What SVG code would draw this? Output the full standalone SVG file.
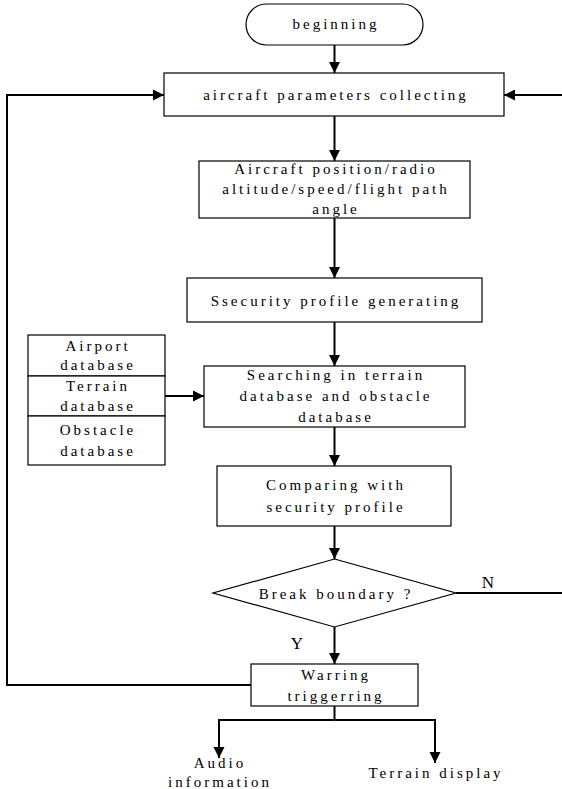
<svg xmlns="http://www.w3.org/2000/svg" width="562" height="789" viewBox="0 0 562 789" font-family="'Liberation Serif', 'Times New Roman', 'DejaVu Serif', serif">
<style>
.box{fill:#fff;stroke:#000;stroke-width:1.2}
.t{font-family:'Liberation Serif','Times New Roman','DejaVu Serif',serif;font-size:15px;letter-spacing:3px;text-anchor:middle;fill:#000}
.lbl{font-family:'Liberation Serif','Times New Roman','DejaVu Serif',serif;font-size:17px;text-anchor:middle;fill:#000}
.c{fill:none;stroke:#000;stroke-width:2}
.ca{fill:none;stroke:#000;stroke-width:2;marker-end:url(#ah)}
</style>
<defs>
<marker id="ah" markerUnits="userSpaceOnUse" markerWidth="12" markerHeight="12" refX="11" refY="6" orient="auto">
<path d="M0,0.5 L11,6 L0,11.5 Z" fill="#000"/>
</marker>
</defs>
<rect width="562" height="789" fill="#fff"/>
<g id="connectors">
<line class="ca" x1="334.5" y1="45" x2="334.5" y2="73"/>
<line class="ca" x1="334.5" y1="116" x2="334.5" y2="161"/>
<line class="ca" x1="334.5" y1="218" x2="334.5" y2="278"/>
<line class="ca" x1="334.5" y1="322" x2="334.5" y2="366"/>
<line class="ca" x1="165" y1="396" x2="204" y2="396"/>
<line class="ca" x1="334.5" y1="427" x2="334.5" y2="466"/>
<line class="ca" x1="334.5" y1="526" x2="334.5" y2="559"/>
<line class="ca" x1="334.5" y1="627" x2="334.5" y2="664"/>
<polyline class="ca" points="456,593 567,593 567,95 504,95"/>
<polyline class="ca" points="251,685 7,685 7,95 164,95"/>
<line class="c" x1="334.5" y1="706" x2="334.5" y2="720"/>
<polyline class="ca" points="334.5,720 219,720 219,758"/>
<polyline class="ca" points="334.5,720 435,720 435,763"/>
<text class="lbl" x="488" y="588">N</text>
<text class="lbl" x="297" y="649">Y</text>
</g>
<g id="beginning">
<rect class="box" x="246" y="4" width="177" height="41" rx="20.5"/>
<text class="t" x="336" y="29">beginning</text>
</g>
<g id="collect">
<rect class="box" x="164" y="73" width="340" height="43"/>
<text class="t" x="336" y="100">aircraft parameters collecting</text>
</g>
<g id="position">
<rect class="box" x="199" y="161" width="271" height="57"/>
<text class="t" x="336" y="174">Aircraft position/radio</text>
<text class="t" x="336" y="194">altitude/speed/flight path</text>
<text class="t" x="336" y="214">angle</text>
</g>
<g id="security">
<rect class="box" x="187" y="278" width="295" height="44"/>
<text class="t" x="336" y="306">Ssecurity profile generating</text>
</g>
<g id="databases">
<rect class="box" x="28" y="335" width="137" height="41"/>
<rect class="box" x="28" y="376" width="137" height="40"/>
<rect class="box" x="28" y="416" width="137" height="49"/>
<text class="t" x="98" y="351">Airport</text>
<text class="t" x="98" y="370">database</text>
<text class="t" x="98" y="391">Terrain</text>
<text class="t" x="98" y="411">database</text>
<text class="t" x="98" y="435">Obstacle</text>
<text class="t" x="98" y="456">database</text>
</g>
<g id="searching">
<rect class="box" x="204" y="366" width="261" height="61"/>
<text class="t" x="336" y="380">Searching in terrain</text>
<text class="t" x="336" y="401">database and obstacle</text>
<text class="t" x="336" y="422">database</text>
</g>
<g id="comparing">
<rect class="box" x="217" y="466" width="234" height="60"/>
<text class="t" x="336" y="490">Comparing with</text>
<text class="t" x="336" y="512">security profile</text>
</g>
<g id="decision">
<polygon class="box" points="334.5,559 456,593 334.5,627 213,593"/>
<text class="t" x="336" y="599">Break boundary  ?</text>
</g>
<g id="warning">
<rect class="box" x="251" y="664" width="167" height="42"/>
<text class="t" x="336" y="680">Warring</text>
<text class="t" x="336" y="701">triggerring</text>
</g>
<g id="audio">
<text class="t" x="220" y="768">Audio</text>
<text class="t" x="220" y="787">information</text>
</g>
<g id="terrain-display">
<text class="t" x="436" y="778">Terrain display</text>
</g>
</svg>
